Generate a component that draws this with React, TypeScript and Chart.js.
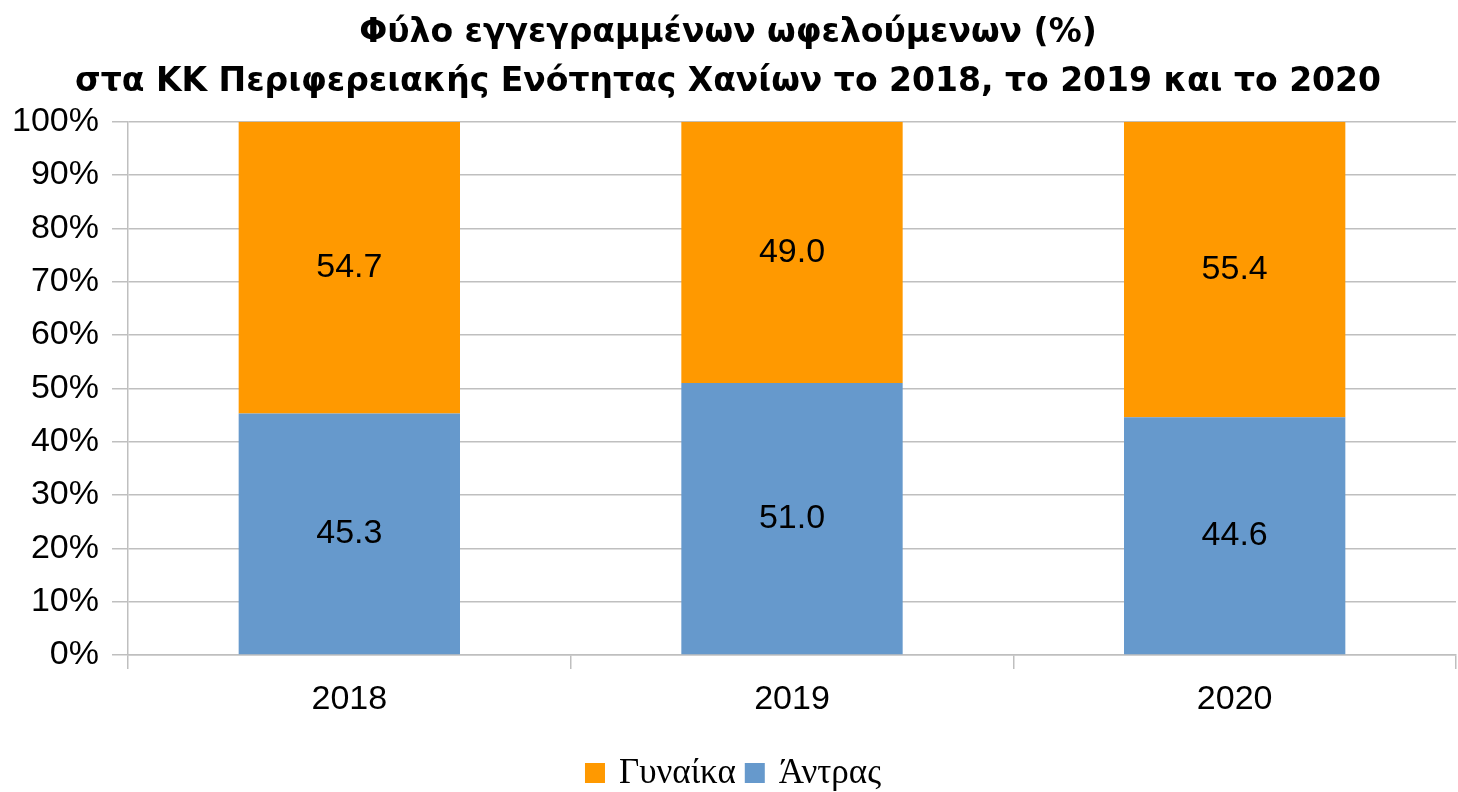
import React, { useEffect, useRef } from "react";
import { Chart, registerables } from "chart.js";

Chart.register(...registerables);

const categories = ["2018", "2019", "2020"];
const menValues = [45.3, 51.0, 44.6];
const womenValues = [54.7, 49.0, 55.4];
const titleLines = [
  "Φύλο εγγεγραμμένων ωφελούμενων (%)",
  "στα ΚΚ Περιφερειακής Ενότητας Χανίων το 2018, το 2019 και το 2020",
];
const seriesNames = ["Άντρας", "Γυναίκα"];

const valueLabels = {
  id: "valueLabels",
  afterDatasetsDraw(chart: any) {
    const ctx = chart.ctx;
    ctx.save();
    ctx.font = "34px 'Liberation Sans', Arial, sans-serif";
    ctx.fillStyle = "#000";
    ctx.textAlign = "center";
    ctx.textBaseline = "middle";
    chart.data.datasets.forEach((ds: any, i: number) => {
      const meta = chart.getDatasetMeta(i);
      meta.data.forEach((bar: any, j: number) => {
        const v = ds.data[j];
        const y = (bar.y + bar.base) / 2;
        ctx.fillText(Number(v).toFixed(1), bar.x, y);
      });
    });
    ctx.restore();
  },
};

const bottomLegend = {
  id: "bottomLegend",
  afterDraw(chart: any) {
    const ctx = chart.ctx;
    const items = chart.data.datasets
      .map((ds: any) => ({ label: ds.label, color: ds.backgroundColor }))
      .reverse();
    ctx.save();
    ctx.font = "35px 'Liberation Serif', 'Times New Roman', serif";
    ctx.textBaseline = "middle";
    ctx.textAlign = "left";
    const box = 20;
    const gap = 14;
    const spacing = 9;
    const widths = items.map((it: any) => box + gap + ctx.measureText(it.label).width);
    const total = widths.reduce((a: number, b: number) => a + b, 0) + spacing * (items.length - 1);
    let x = chart.width / 2 - total / 2 + 4;
    const cy = 773;
    items.forEach((it: any, i: number) => {
      ctx.fillStyle = it.color;
      ctx.fillRect(x, cy - box / 2, box, box);
      ctx.fillStyle = "#000";
      ctx.fillText(it.label, x + box + gap, cy + 1);
      x += widths[i] + spacing;
    });
    ctx.restore();
  },
};

export default function App() {
  const ref = useRef<HTMLCanvasElement>(null);
  useEffect(() => {
    document.body.style.margin = "0";
    const grid = "#BFBFBF";
    const chart = new Chart(ref.current!, {
      type: "bar",
      data: {
        labels: categories,
        datasets: [
          {
            label: seriesNames[0],
            data: menValues,
            backgroundColor: "#6699CC",
          },
          {
            label: seriesNames[1],
            data: womenValues,
            backgroundColor: "#FF9900",
          },
        ],
      },
      options: {
        animation: false,
        responsive: false,
        maintainAspectRatio: false,
        layout: { padding: { left: 0, right: 2, top: 0, bottom: 39 } },
        datasets: {
          bar: { barPercentage: 1, categoryPercentage: 0.5 },
        },
        plugins: {
          tooltip: { enabled: false },
          title: {
            display: true,
            text: titleLines,
            color: "#000",
            font: { family: "'DejaVu Sans', sans-serif", size: 33, weight: "bold", lineHeight: 1.48 },
            padding: { top: 9, bottom: 15 },
          },
          legend: { display: false },
        },
        scales: {
          x: {
            stacked: true,
            grid: {
              offset: true,
              drawOnChartArea: false,
              drawTicks: true,
              tickLength: 14,
              color: grid,
              lineWidth: 1.5,
            },
            border: { display: true, color: grid, width: 1.5 },
            ticks: {
              color: "#000",
              padding: 10,
              font: { family: "'Liberation Sans', Arial, sans-serif", size: 34 },
            },
            afterFit(scale: any) {
              scale.height = 98;
            },
          },
          y: {
            stacked: true,
            min: 0,
            max: 100,
            ticks: {
              stepSize: 10,
              color: "#000",
              padding: 13,
              font: { family: "'Liberation Sans', Arial, sans-serif", size: 34 },
              callback: (v: any) => v + "%",
            },
            grid: { color: grid, lineWidth: 1.5, tickLength: 16 },
            border: { display: true, color: grid, width: 1.5 },
            afterFit(scale: any) {
              scale.width = 128;
            },
          },
        },
      },
      plugins: [valueLabels, bottomLegend],
    });
    return () => chart.destroy();
  }, []);
  return (
    <div style={{ width: 1458, height: 792 }}>
      <canvas ref={ref} width={1458} height={792} style={{ width: 1458, height: 792, display: "block" }} />
    </div>
  );
}
